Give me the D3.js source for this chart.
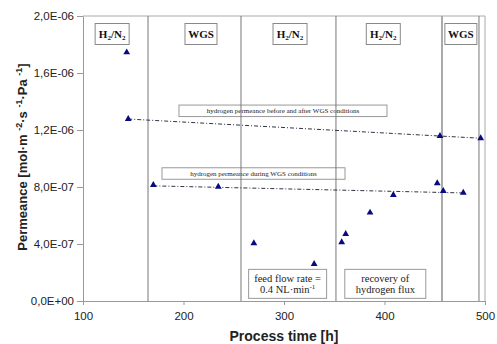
<!DOCTYPE html>
<html>
<head>
  <meta charset="UTF-8">
  <style>
    body { margin: 0; background: #fff; }
    .tick text { font-family: 'Liberation Sans', Arial, sans-serif; font-size: 11.5px; fill: #222; }
    .axis path, .axis line { stroke: #999; }
    .axis-label { font-family: 'Liberation Sans', Arial, sans-serif; font-weight: bold; font-size: 14px; fill: #222; }
    .region { font-family: 'Liberation Serif', 'Times New Roman', serif; font-weight: bold; font-size: 11px; fill: #111; }
    .note { font-family: 'Liberation Serif', 'Times New Roman', serif; font-size: 7px; fill: #222; }
    .note-big { font-family: 'Liberation Serif', 'Times New Roman', serif; font-size: 10.5px; fill: #222; }
  </style>
</head>
<body>
<svg id="chart" width="497" height="344"></svg>
<script src="https://cdn.jsdelivr.net/npm/d3@7"></script>
<script>
  // measured points
  const hours = [143.5, 145, 170, 234.6, 270, 330, 357.4, 361.4, 385.6, 408.8, 452.5, 455.2, 458.5, 478.4, 495.7];
  const permeance = [1.745e-6, 1.277e-6, 0.814e-6, 0.802e-6, 0.405e-6, 0.26e-6, 0.412e-6, 0.47e-6,
                     0.62e-6, 0.744e-6, 0.826e-6, 1.158e-6, 0.772e-6, 0.76e-6, 1.142e-6];

  // trend lines (start / end)
  const trendBeforeHours = [145, 496];
  const trendBeforeValues = [1.277e-6, 1.142e-6];
  const trendDuringHours = [170, 480];
  const trendDuringValues = [0.808e-6, 0.758e-6];

  // phase boundaries and phase labels
  const boundaries = [164.7, 257.2, 351.7, 457.2, 494];
  const phaseNames = ["H2/N2", "WGS", "H2/N2", "H2/N2", "WGS"];
  const phaseCenters = [129, 217.4, 306, 398.8, 476];

  const yTicks = [0, 0.4e-6, 0.8e-6, 1.2e-6, 1.6e-6, 2.0e-6];
  const xTicks = [100, 200, 300, 400, 500];

  let margin = {top: 16, right: 12, bottom: 43, left: 83},
      width = 497 - margin.left - margin.right,
      height = 344 - margin.top - margin.bottom;

  let svg = d3.select("#chart")
    .append("g")
      .attr("transform", "translate(" + margin.left + "," + margin.top + ")");

  let x = d3.scaleLinear().domain([100, 500]).range([0, width]);
  let y = d3.scaleLinear().domain([0, 2e-6]).range([height, 0]);

  // 2,0E-06 style labels
  function sci(v) {
    let s = v.toExponential(1).split("e");
    let ex = parseInt(s[1]);
    let sign = ex < 0 ? "-" : "+";
    return s[0].replace(".", ",") + "E" + sign + String(Math.abs(ex)).padStart(2, "0");
  }

  // frame top/right
  svg.append("line").attr("x1", 0).attr("x2", width).attr("y1", 0).attr("y2", 0)
    .attr("stroke", "#aaa");
  svg.append("line").attr("x1", width).attr("x2", width).attr("y1", 0).attr("y2", height)
    .attr("stroke", "#aaa");

  svg.append("g")
    .attr("class", "axis")
    .attr("transform", "translate(0," + height + ")")
    .call(d3.axisBottom(x).tickValues(xTicks).tickSize(4).tickSizeOuter(0).tickPadding(7));

  svg.append("g")
    .attr("class", "axis")
    .call(d3.axisLeft(y).tickValues(yTicks).tickFormat(sci).tickSize(6).tickSizeOuter(0).tickPadding(3));

  svg.selectAll(".tick text").attr("dy", "0.34em");
  svg.selectAll(".axis g.tick text").filter(function() { return this.parentNode.parentNode.getAttribute("transform"); })
    .attr("dy", "0.71em");

  // annotation boxes
  function box(x0, y0, w, h, lines, cls, lh) {
    svg.append("rect")
      .attr("x", x0).attr("y", y0).attr("width", w).attr("height", h)
      .attr("fill", "#fff").attr("stroke", "#999");
    let t = svg.append("text").attr("class", cls).attr("text-anchor", "middle");
    lines.forEach(function(l, i) {
      let ts = t.append("tspan").attr("x", x0 + w / 2)
        .attr("y", y0 + h / 2 + (i - (lines.length - 1) / 2) * lh + lh * 0.33);
      l.forEach(function(part) {
        let p = ts.append("tspan").text(part[0]);
        if (part[1] === "sup") p.attr("dy", -4).attr("font-size", "7px");
      });
    });
  }

  box(x(195.5), y(1.375e-6), 208, 11.5,
      [[["hydrogen permeance before and after WGS conditions"]]], "note", 8);
  box(x(178.6), y(0.935e-6), 183, 11.5,
      [[["hydrogen permeance during WGS conditions"]]], "note", 8);
  box(x(264.8), y(0.222e-6), 78, 29,
      [[["feed flow rate ="]], [["0.4 NL·min"], ["-1", "sup"]]], "note-big", 11);
  box(x(360.5), y(0.222e-6), 81, 29,
      [[["recovery of"]], [["hydrogen flux"]]], "note-big", 11);

  // phase boundary lines
  svg.selectAll(".boundary")
    .data(boundaries)
    .enter()
    .append("line")
      .attr("x1", d => x(d)).attr("x2", d => x(d))
      .attr("y1", 0).attr("y2", height)
      .attr("stroke", (d, i) => i === 3 ? "#aaa" : "#777")
      .attr("stroke-width", (d, i) => i === 3 ? 2 : 1);

  // phase labels
  phaseNames.forEach(function(name, i) {
    let cx = x(phaseCenters[i]);
    let w = name === "WGS" ? 32 : 34;
    svg.append("rect")
      .attr("x", cx - w / 2).attr("y", 7.5).attr("width", w).attr("height", 21)
      .attr("fill", "#fff").attr("stroke", "#888");
    let t = svg.append("text").attr("class", "region").attr("text-anchor", "middle")
      .attr("x", cx).attr("y", 22);
    if (name === "WGS") {
      t.text("WGS");
    } else {
      t.append("tspan").text("H");
      t.append("tspan").text("2").attr("font-size", "7px").attr("dy", 2);
      t.append("tspan").text("/N").attr("dy", -2);
      t.append("tspan").text("2").attr("font-size", "7px").attr("dy", 2);
    }
  });

  // trend lines
  let line = d3.line().x(d => x(d[0])).y(d => y(d[1]));
  svg.append("path")
    .datum(d3.zip(trendBeforeHours, trendBeforeValues))
    .attr("d", line)
    .attr("fill", "none").attr("stroke", "#334").attr("stroke-width", 1)
    .attr("stroke-dasharray", "4,2,1,2");
  svg.append("path")
    .datum(d3.zip(trendDuringHours, trendDuringValues))
    .attr("d", line)
    .attr("fill", "none").attr("stroke", "#334").attr("stroke-width", 1)
    .attr("stroke-dasharray", "4,2,1,2");

  // points
  svg.selectAll(".pt")
    .data(d3.zip(hours, permeance))
    .enter()
    .append("path")
      .attr("d", d3.symbol().type(d3.symbolTriangle).size(20))
      .attr("transform", d => "translate(" + x(d[0]) + "," + y(d[1]) + ")")
      .attr("fill", "#0a0a80");

  // axis titles
  svg.append("text")
    .attr("class", "axis-label")
    .attr("text-anchor", "middle")
    .attr("x", width / 2)
    .attr("y", height + 40)
    .text("Process time [h]");

  let yl = svg.append("text")
    .attr("class", "axis-label")
    .attr("text-anchor", "middle")
    .style("font-size", "13px")
    .attr("transform", "translate(" + (27 - margin.left) + "," + (height / 2 - 1.5) + ") rotate(-90)");
  yl.append("tspan").text("Permeance [mol·m ");
  yl.append("tspan").text("-2").attr("font-size", "9px").attr("dy", -5);
  yl.append("tspan").text("·s ").attr("dy", 5);
  yl.append("tspan").text("-1").attr("font-size", "9px").attr("dy", -5);
  yl.append("tspan").text("·Pa ").attr("dy", 5);
  yl.append("tspan").text("-1").attr("font-size", "9px").attr("dy", -5);
  yl.append("tspan").text("]").attr("dy", 5);
</script>
</body>
</html>
